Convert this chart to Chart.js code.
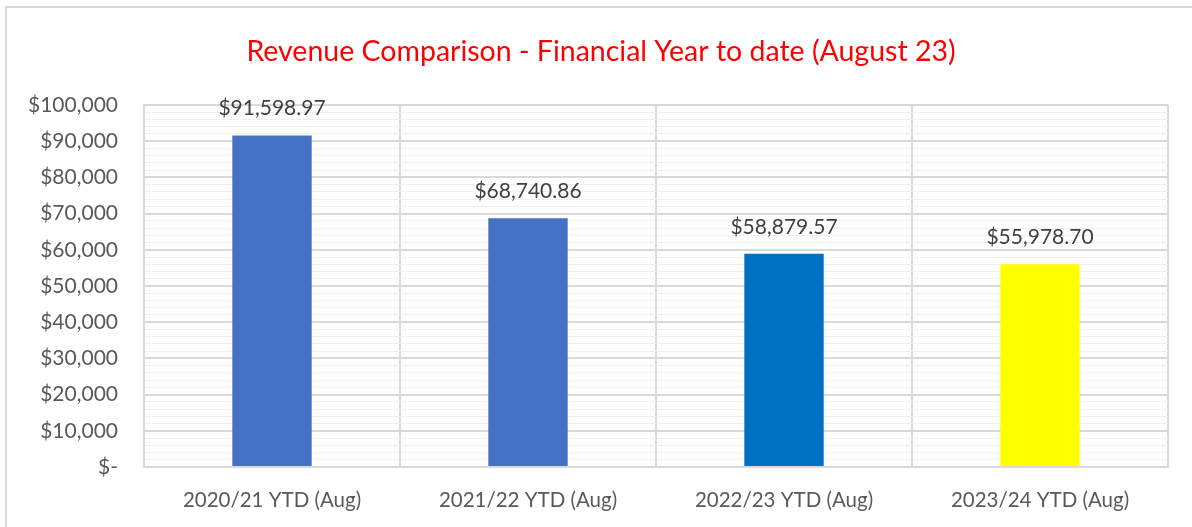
<!DOCTYPE html>
<html>
<head>
<meta charset="utf-8">
<script src="https://cdn.jsdelivr.net/npm/chart.js@4/dist/chart.umd.min.js"></script>
<style>
  body { margin: 0; background: #ffffff; overflow: hidden; }
  #frame { position: absolute; left: 5px; top: 6px; width: 1200px; height: 540px; border: 2px solid #d9d9d9; box-sizing: border-box; }
  #wrap { position: absolute; left: 0; top: 0; width: 1192px; height: 527px; }
</style>
</head>
<body>
<div id="frame"></div>
<div id="wrap"><canvas id="myChart" width="1192" height="527"></canvas></div>
<script>
/*---- chart data ----*/
var categories = ["2020/21 YTD (Aug)", "2021/22 YTD (Aug)", "2022/23 YTD (Aug)", "2023/24 YTD (Aug)"];
var revenue = [91598.97, 68740.86, 58879.57, 55978.70];
var barColors = ["#4472c4", "#4472c4", "#0070c0", "#ffff00"];
var yTicks = [0, 10000, 20000, 30000, 40000, 50000, 60000, 70000, 80000, 90000, 100000];
var chartTitle = "Revenue Comparison - Financial Year to date (August 23)";

var FONT = "Lato, 'Open Sans', sans-serif";

/*---- money formatting for labels ----*/
function money(v, dec) {
	if (v === 0) return "$-";
	return "$" + v.toLocaleString("en-US", {minimumFractionDigits: dec, maximumFractionDigits: dec});
}

/*---- title drawn centred on the outer frame, not the plot ----*/
var frameTitle = {
	id: "frameTitle",
	afterDraw: function(chart) {
		var ctx = chart.ctx;
		ctx.save();
		ctx.font = "28.5px " + FONT;
		ctx.fillStyle = "#ff0000";
		ctx.textAlign = "center";
		ctx.textBaseline = "middle";
		ctx.fillText(chartTitle, 601, 52);
		ctx.restore();
	}
};

/*---- value labels drawn above each bar ----*/
var barLabels = {
	id: "barLabels",
	afterDatasetsDraw: function(chart) {
		var ctx = chart.ctx;
		var meta = chart.getDatasetMeta(0);
		ctx.save();
		ctx.font = "21px " + FONT;
		ctx.fillStyle = "#404040";
		ctx.textAlign = "center";
		ctx.textBaseline = "middle";
		for (var i = 0; i < meta.data.length; i++) {
			var bar = meta.data[i];
			ctx.fillText(money(revenue[i], 2), bar.x, bar.y - 27);
		}
		ctx.restore();
	}
};

var ctx = document.getElementById("myChart").getContext("2d");
var myChart = new Chart(ctx, {
	type: "bar",
	data: {
		labels: categories,
		datasets: [{
			label: "Revenue",
			data: revenue,
			backgroundColor: barColors,
			borderWidth: 0,
			barPercentage: 0.31,
			categoryPercentage: 1.0
		}]
	},
	options: {
		responsive: false,
		animation: false,
		layout: { padding: { left: 0, right: 24, top: 105, bottom: 0 } },
		plugins: {
			legend: { display: false },
			tooltip: { enabled: false },
			title: { display: false }
		},
		scales: {
			x: {
				grid: { color: "#d9d9d9", lineWidth: 2, drawTicks: false, offset: true },
				border: { color: "#d9d9d9", width: 2 },
				ticks: { color: "#595959", font: { family: FONT, size: 20.5 }, padding: 21, maxRotation: 0 },
				afterFit: function(scale) { scale.height = 60; }
			},
			y: {
				min: yTicks[0],
				max: yTicks[yTicks.length - 1],
				grid: {
					drawTicks: false,
					color: function(c) { return c.tick && c.tick.value % 10000 === 0 ? "#d9d9d9" : "#efefef"; },
					lineWidth: function(c) { return c.tick && c.tick.value % 10000 === 0 ? 2 : 1; }
				},
				border: { color: "#d9d9d9", width: 2 },
				ticks: {
					stepSize: 2000,
					autoSkip: false,
					color: "#595959",
					font: { family: FONT, size: 21 },
					padding: 26,
					callback: function(v) { return yTicks.indexOf(v) >= 0 ? money(v, 0) : ""; }
				},
				afterFit: function(scale) { scale.width = 144; }
			}
		}
	},
	plugins: [barLabels, frameTitle]
});
</script>
</body>
</html>
